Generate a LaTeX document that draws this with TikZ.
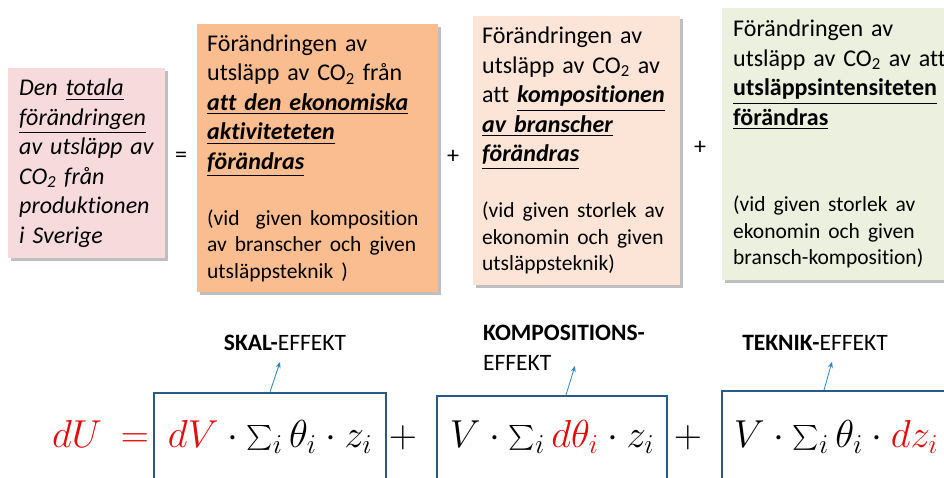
\documentclass[tikz,border=0pt]{standalone}
\usepackage{fix-cm}
\usepackage{exscale}
\usepackage{fontspec}
\setmainfont{Carlito}[Ligatures=NoCommon]
\usetikzlibrary{positioning,shadows,calc,arrows.meta}

\definecolor{pinkfill}{RGB}{246,218,220}
\definecolor{orangefill}{RGB}{250,189,143}
\definecolor{peachfill}{RGB}{252,228,214}
\definecolor{greenfill}{RGB}{235,241,222}
\definecolor{boxblue}{RGB}{38,92,140}
\definecolor{arrowblue}{RGB}{46,134,193}
\definecolor{eqred}{RGB}{226,12,12}

\newcommand{\mainsize}{\fontsize{24}{29.5}\selectfont}
\newcommand{\smallsize}{\fontsize{21.5}{26.5}\selectfont}
\newcommand{\labsize}{\fontsize{23.5}{30}\selectfont}
\newcommand{\eqsize}{\fontsize{39}{42}\selectfont}
\newcommand{\cotwo}{CO\textsubscript{2}}
\newcommand{\ulbi}[1]{\underline{\textbf{\textit{#1}}}}

\begin{document}
\begin{tikzpicture}[x=1pt,y=-1pt,
    infobox/.style={anchor=north west, inner xsep=10pt, inner ysep=0pt, align=left,
        drop shadow={shadow xshift=2.5pt, shadow yshift=-2.5pt, fill=black, opacity=0.25}},
    effbox/.style={draw=boxblue, line width=1.6pt, anchor=north, inner sep=0pt,
        text depth=90pt, font=\eqsize},
    efflabel/.style={font=\labsize, inner sep=1pt},
    effarrow/.style={draw=arrowblue, line width=0.8pt, -{Stealth[length=6pt,width=5pt]}},
    sign/.style={font=\mainsize, inner sep=0pt}]

    %frame of the picture
    \useasboundingbox (0,0) rectangle (944,478);
    \clip (0,0) rectangle (944,478);

    %text boxes on top
    \node[infobox, fill=pinkfill, text width=135pt, inner xsep=11pt, minimum height=190pt,
        font=\mainsize\itshape] (total) at (8,68)
        {Den \underline{totala}\\ \underline{förändringen}\\ av utsläpp av\\ \cotwo{} från\\ produktionen\\ i Sverige};
    \node[infobox, fill=orangefill, text width=221pt, minimum height=268pt, font=\mainsize] (scale) at (197,24)
        {Förändringen av\\ utsläpp av \cotwo{} från\\ \ulbi{att den ekonomiska}\\ \ulbi{aktiviteteten}\\ \ulbi{förändras}\par
         \vspace{29.5pt}{\smallsize (vid~ given komposition\\ av branscher och given\\ utsläppsteknik )\par}};
    \node[infobox, fill=peachfill, text width=189pt, inner xsep=9pt, minimum height=269pt, font=\mainsize] (comp) at (473,16)
        {Förändringen av\\ utsläpp av \cotwo{} av\\ \mbox{att \ulbi{kompositionen}}\\ \ulbi{av branscher}\\ \ulbi{förändras}\par
         \vspace{29.5pt}{\smallsize (vid given storlek av\\ ekonomin och given\\ utsläppsteknik)\par}};
    \node[infobox, fill=greenfill, text width=230pt, inner xsep=11pt, minimum height=272pt, font=\mainsize] (tech) at (722,8)
        {Förändringen av\\ utsläpp av \cotwo{} av att\\ \underline{\textbf{utsläppsintensiteten}}\\ \underline{\textbf{förändras}}\par
         \vspace{60pt}{\smallsize (vid given storlek av\\ ekonomin och given\\ bransch-komposition)\par}};

    \node[sign] (eqtop) at (181,157) {=};
    \node[sign] (plustopa) at (453,157) {+};
    \node[sign] (plustopb) at (700,148) {+};

    %equation
    \node[font=\eqsize, text=eqred, anchor=base] (du) at (77,447) {$dU$};
    \node[font=\eqsize, text=eqred, anchor=base] (equals) at (135,447) {$=$};
    \node[effbox, minimum width=232pt, text height=55pt] (eqscale) at (270,392)
        {$\textcolor{eqred}{dV}\cdot\sum_i\theta_i\cdot z_i$};
    \node[font=\eqsize, anchor=base] (plusa) at (403,447) {$+$};
    \node[effbox, minimum width=230pt, text height=52pt] (eqcomp) at (552,395)
        {$V\cdot\sum_i\textcolor{eqred}{d\theta_i}\cdot z_i$};
    \node[font=\eqsize, anchor=base] (plusb) at (688,447) {$+$};
    \node[effbox, minimum width=228pt, text height=57pt] (eqtech) at (836,390)
        {$V\cdot\sum_i\theta_i\cdot\textcolor{eqred}{dz_i}$};

    %effect labels
    \node[efflabel] (lblscale) at (285,343) {\textbf{SKAL-}EFFEKT};
    \node[efflabel, align=left, anchor=west] (lblcomp) at (482,348) {\textbf{KOMPOSITIONS-}\\EFFEKT};
    \node[efflabel] (lbltech) at (815,343) {\textbf{TEKNIK-}EFFEKT};

    \draw[effarrow] (eqscale.north) -- ($(lblscale.south)+(-5,10)$);
    \draw[effarrow] ($(eqcomp.north)+(14,0)$) -- ($(lblcomp.south)+(11,-6)$);
    \draw[effarrow] ($(eqtech.north)+(-12,0)$) -- ($(lbltech.south)+(17,10)$);
\end{tikzpicture}
\end{document}
